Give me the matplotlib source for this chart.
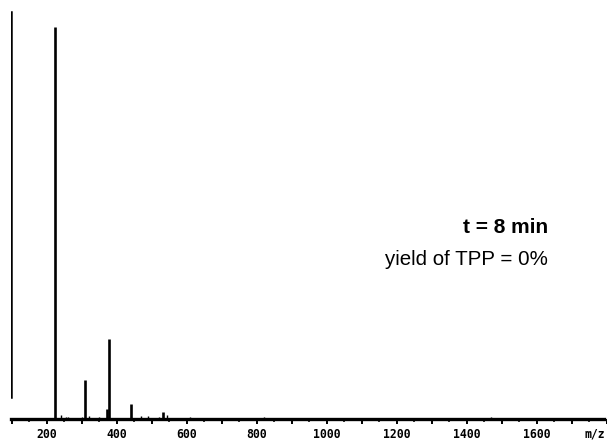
import matplotlib
matplotlib.use("Agg")
import matplotlib.pyplot as plt
from matplotlib.ticker import MultipleLocator

# Peak list of the mass spectrum (m/z, relative intensity %)
peak_mz = [224, 309, 372, 378, 441, 533]
peak_int = [100.0, 10.0, 2.5, 20.4, 3.8, 1.8]

# Small background signals along the baseline
noise_mz = [240, 255, 262, 300, 320, 350, 470, 490, 520, 545, 610, 820, 1470]
noise_int = [1.0, 0.6, 0.5, 0.5, 0.8, 0.6, 0.8, 0.7, 0.6, 0.9, 0.4, 0.4, 0.4]

tick_labels = ["200", "400", "600", "800", "1000", "1200", "1400", "1600"]
tick_values = [200, 400, 600, 800, 1000, 1200, 1400, 1600]

W, H = 607, 440
fig = plt.figure(figsize=(W / 100, H / 100), dpi=100)
ax = fig.add_axes([11 / W, 21 / H, 1 - 11 / W, 419 / H])

xmin, xmax = 98, 1801
ax.set_xlim(xmin, xmax)
ax.set_ylim(0, 106.9)

# spectrum sticks
ax.vlines(peak_mz, 0, peak_int, color="black", lw=1.9, clip_on=False)
ax.vlines(noise_mz, 0, noise_int, color="black", lw=1.0, clip_on=False)

# heavy baseline
ax.axhline(0, color="black", lw=2.4, clip_on=False, xmax=0.995)

# intensity bar at the left edge
ax.axvline(xmin + 1, ymin=0.053, ymax=0.971, color="black", lw=1.8)

for s in ax.spines.values():
    s.set_visible(False)
ax.set_yticks([])

ax.xaxis.set_major_locator(MultipleLocator(100))
ax.xaxis.set_minor_locator(MultipleLocator(50))
ax.tick_params(axis="x", which="major", direction="out", length=3.8, width=1.4,
               color="black", labelbottom=False)
ax.tick_params(axis="x", which="minor", direction="out", length=2.4, width=1.1,
               color="black")

lab_font = dict(family="DejaVu Sans Mono", weight="bold", size=8.3, color="black")
for v, t in zip(tick_values, tick_labels):
    ax.text(v, -3.9, t, ha="center", va="center", **lab_font)
ax.text(1766, -3.9, "m/z", ha="center", va="center", **lab_font)

ax.text(548, H - 227, "t = 8 min", transform=None, ha="right", va="center",
        family="Liberation Sans", weight="bold", size=15)
ax.text(548, H - 259, "yield of TPP = 0%", transform=None, ha="right", va="center",
        family="Liberation Sans", size=14.8)

fig.savefig("out.png", dpi=100, facecolor="white")
